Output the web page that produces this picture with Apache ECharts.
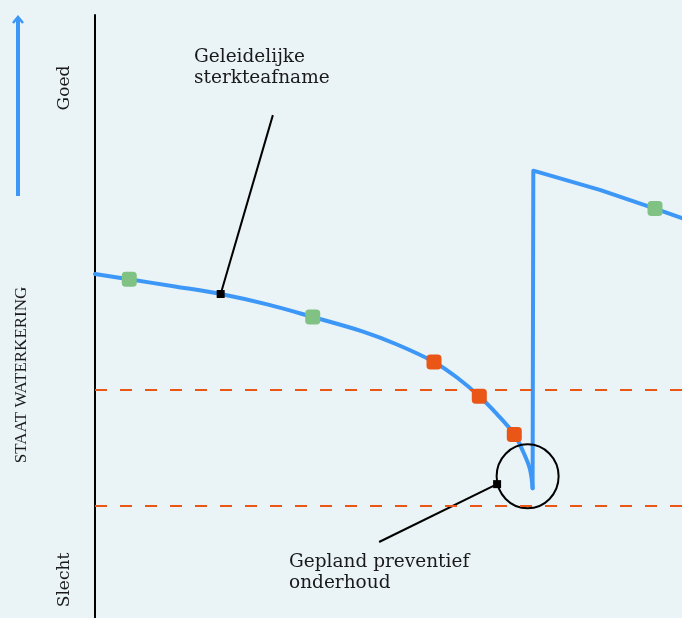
<!DOCTYPE html>
<html>
<head>
<meta charset="utf-8">
<script src="https://cdn.jsdelivr.net/npm/echarts@6/dist/echarts.min.js"></script>
<style>
html,body{margin:0;padding:0;background:#EAF3F6;}
#chart{width:682px;height:618px;}
</style>
</head>
<body>
<div id="chart"></div>
<script>
// Data (x = time 0..100, y = state of the dike 0..100)
var decayCurve = [[0,57.05],[5.84,56.17],[13.63,54.98],[21.41,53.73],[29.52,51.97],[37.09,49.92],[45.66,47.5],[51.45,45.36],[57.75,42.47],[61.67,39.88],[65.47,36.77],[68.48,33.8],[71.43,30.43],[72.96,27.53],[74.11,24.63],[74.55,21.5]];
var afterMaintenance = [[74.55,21.5],[74.67,74.18],[86.0,71.0],[95.4,67.9],[100,66.3]];
var greenPoints = [[5.84,56.17],[37.09,49.92],[95.4,67.9]];
var orangePoints = [[57.75,42.47],[65.47,36.77],[71.43,30.43]];
var thresholds = [37.8, 18.6];
var leaderDecay = [[30.3,83.4],[21.41,53.73]];
var leaderMaint = [[68.5,22.2],[48.4,12.6]];
var maintCircle = [[73.7,23.5]];
var labels = {
  decay: 'Geleidelijke\nsterkteafname',
  maint: 'Gepland preventief\nonderhoud',
  good: 'Goed',
  bad: 'Slecht',
  axis: 'STAAT WATERKERING'
};

var BLUE = '#3D97F7', GREEN = '#80C283', ORANGE = '#EA5616', FONT = '"DejaVu Serif", serif';
var chart = echarts.init(document.getElementById('chart'));
chart.setOption({
  backgroundColor: '#EAF3F6',
  animation: false,
  grid: {left: 95, right: 0, top: 15, bottom: 0},
  xAxis: {type: 'value', min: 0, max: 100, show: false},
  yAxis: {type: 'value', min: 0, max: 100,
    axisLine: {show: true, lineStyle: {color: '#000', width: 2}},
    axisTick: {show: false}, axisLabel: {show: false}, splitLine: {show: false}},
  series: [
    {type: 'line', data: decayCurve, smooth: 0.35, symbol: 'none', lineStyle: {color: BLUE, width: 4, cap: 'round'}, z: 3,
      markLine: {silent: true, symbol: 'none', label: {show: false},
        lineStyle: {color: ORANGE, width: 2, type: [12, 13]},
        data: thresholds.map(function(v){ return {yAxis: v}; })}},
    {type: 'line', data: afterMaintenance, smooth: false, symbol: 'none', lineStyle: {color: BLUE, width: 4, join: 'round', cap: 'round'}, z: 3},
    {type: 'line', data: leaderDecay, symbol: 'none', lineStyle: {color: '#000', width: 2}, z: 4},
    {type: 'line', data: leaderMaint, symbol: 'none', lineStyle: {color: '#000', width: 2}, z: 4},
    {type: 'scatter', data: maintCircle, symbol: 'circle', symbolSize: [62, 64],
      itemStyle: {color: 'rgba(0,0,0,0)', borderColor: '#000', borderWidth: 2, opacity: 1}, z: 4},
    {type: 'scatter', data: [leaderDecay[1], leaderMaint[0]], symbol: 'rect', symbolSize: 8,
      itemStyle: {color: '#000', opacity: 1}, z: 6},
    {type: 'scatter', data: greenPoints, symbol: 'roundRect', symbolSize: 15, itemStyle: {color: GREEN, opacity: 1}, z: 5},
    {type: 'scatter', data: orangePoints, symbol: 'roundRect', symbolSize: 15, itemStyle: {color: ORANGE, opacity: 1}, z: 5}
  ],
  graphic: [
    {type: 'line', shape: {x1: 18, y1: 196, x2: 18, y2: 18}, style: {stroke: BLUE, lineWidth: 4}},
    {type: 'polyline', shape: {points: [[13, 23], [18, 17], [23, 23]]}, style: {stroke: BLUE, lineWidth: 2.5, fill: null}},
    {type: 'text', x: 194, y: 47, style: {text: labels.decay, font: '18.5px ' + FONT, fill: '#1a1a1a', lineHeight: 21}},
    {type: 'text', x: 289, y: 552, style: {text: labels.maint, font: '18.5px ' + FONT, fill: '#1a1a1a', lineHeight: 21}},
    {type: 'text', x: 65, y: 88, rotation: Math.PI / 2, style: {text: labels.good, font: '17px ' + FONT, fill: '#1a1a1a', align: 'center', verticalAlign: 'middle'}},
    {type: 'text', x: 65, y: 580, rotation: Math.PI / 2, style: {text: labels.bad, font: '17px ' + FONT, fill: '#1a1a1a', align: 'center', verticalAlign: 'middle'}},
    {type: 'text', x: 22, y: 375, rotation: Math.PI / 2, style: {text: labels.axis, font: '17px "Liberation Serif", serif', fill: '#1a1a1a', align: 'center', verticalAlign: 'middle'}}
  ]
});
</script>
</body>
</html>
